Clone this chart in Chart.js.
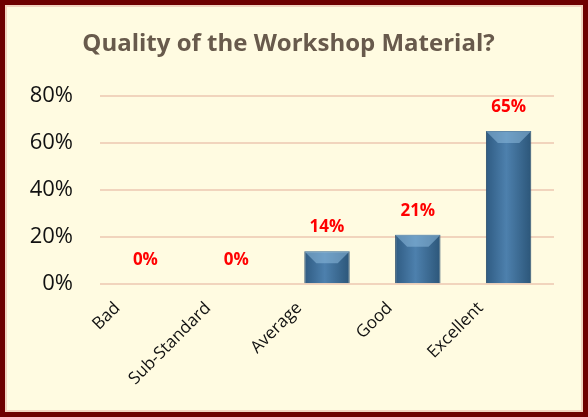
<!DOCTYPE html>
<html>
<head>
<meta charset="utf-8">
<script src="https://cdn.jsdelivr.net/npm/chart.js@4"></script>
<style>
  html, body { margin: 0; padding: 0; background: #ffffff; }
  .frame {
    width: 588px; height: 417px; box-sizing: border-box;
    border: 5px solid #6e0000;
    background: #fffbe1;
    box-shadow: inset 0 0 0 2px #f2d3bf;
    padding: 8px 27px 6px 18px;
  }
  .frame canvas { width: 100%; height: 100%; }
</style>
</head>
<body>
<div class="frame"><canvas id="js-bar-chart"></canvas></div>
<script>
// Chart data
const categories = ['Bad', 'Sub-Standard', 'Average', 'Good', 'Excellent'];
const percentValues = [0, 0, 14, 21, 65];
const yTicks = [0, 20, 40, 60, 80];

const FONT = '"Open Sans", Lato, sans-serif';

// Grab the bar chart canvas
const barChartContext = document.getElementById('js-bar-chart').getContext('2d');

// Horizontal shading across each bar
function barFill(context) {
  const chart = context.chart;
  if (!chart.chartArea || !chart.scales.x) return '#3d6d99';
  const x = chart.scales.x.getPixelForValue(context.dataIndex);
  const half = (chart.scales.x.width / categories.length) * 0.25;
  const g = chart.ctx.createLinearGradient(x - half, 0, x + half, 0);
  g.addColorStop(0, '#2f5b82');
  g.addColorStop(0.45, '#4d80ad');
  g.addColorStop(1, '#2c5679');
  return g;
}

// Red value labels above the bars
const valueLabels = {
  id: 'valueLabels',
  afterDatasetsDraw(chart) {
    const ctx = chart.ctx;
    const meta = chart.getDatasetMeta(0);
    ctx.save();
    meta.data.forEach((bar, i) => {
      // light bevel on top of each bar
      if (percentValues[i] > 0) {
        const w = bar.width;
        const left = bar.x - w / 2;
        const depth = Math.min(12, (bar.base - bar.y) / 2);
        ctx.fillStyle = 'rgba(140,185,220,0.55)';
        ctx.beginPath();
        ctx.moveTo(left, bar.y);
        ctx.lineTo(left + w, bar.y);
        ctx.lineTo(left + w - depth, bar.y + depth);
        ctx.lineTo(left + depth, bar.y + depth);
        ctx.closePath();
        ctx.fill();
      }
      ctx.fillStyle = '#ff0000';
      ctx.font = 'bold 17px ' + FONT;
      ctx.textAlign = 'center';
      ctx.textBaseline = 'middle';
      ctx.fillText(percentValues[i] + '%', bar.x, bar.y - 24);
    });
    ctx.restore();
  },
};

// Chart configuration
const config = {
  type: 'bar',
  data: {
    labels: categories,
    datasets: [
      {
        data: percentValues,
        backgroundColor: barFill,
        borderColor: '#2a4d6c',
        borderWidth: 1,
        barPercentage: 0.5,
        categoryPercentage: 1,
      },
    ],
  },
  options: {
    responsive: true,
    maintainAspectRatio: false,
    animation: false,
    layout: { padding: { top: 0, right: 2, bottom: 11 } },
    plugins: {
      legend: { display: false },
      tooltip: { enabled: false },
      title: {
        display: true,
        text: 'Quality of the Workshop Material?',
        color: '#685a4c',
        font: { family: FONT, size: 24, weight: 'bold' },
        padding: { top: 17, bottom: 37 },
      },
    },
    scales: {
      y: {
        min: 0,
        max: 80,
        afterBuildTicks: (axis) => {
          axis.ticks = yTicks.map((v) => ({ value: v }));
        },
        afterFit: (axis) => {
          axis.width = 77;
        },
        border: { display: false },
        grid: { color: '#f1d4bd', lineWidth: 2, drawTicks: false },
        ticks: {
          color: '#111111',
          padding: 27,
          font: { family: FONT, size: 22 },
          callback: function (value) {
            return value + '%';
          },
        },
      },
      x: {
        border: { display: false },
        grid: { display: false },
        ticks: {
          color: '#111111',
          minRotation: 45,
          maxRotation: 45,
          padding: 6,
          labelOffset: -28,
          font: { family: FONT, size: 17 },
        },
      },
    },
  },
  plugins: [valueLabels],
};

// Creating a new chart instance
const newBarChart = new Chart(barChartContext, config);
</script>
</body>
</html>
